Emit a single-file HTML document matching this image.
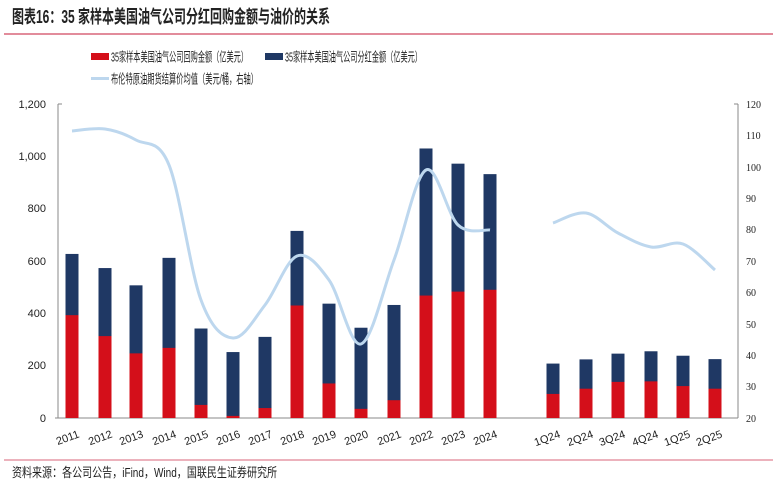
<!DOCTYPE html>
<html><head><meta charset="utf-8"><style>
body{margin:0;background:#fff;}
svg{display:block;font-family:"Liberation Sans","Noto Sans CJK SC",sans-serif;}
</style></head><body>
<svg width="777" height="485" viewBox="0 0 777 485">
<text x="12" y="23" font-size="18" font-weight="bold" fill="#222" textLength="318" lengthAdjust="spacingAndGlyphs">图表16：35 家样本美国油气公司分红回购金额与油价的关系</text>
<line x1="4" y1="34" x2="773" y2="34" stroke="#d9667a" stroke-width="1.5"/>
<rect x="91" y="53" width="18" height="7" fill="#d40f1a"/>
<text x="111" y="61.5" font-size="13" fill="#222" textLength="137" lengthAdjust="spacingAndGlyphs">35家样本美国油气公司回购金额（亿美元）</text>
<rect x="265" y="53" width="18" height="7" fill="#1f3864"/>
<text x="285" y="61.5" font-size="13" fill="#222" textLength="137" lengthAdjust="spacingAndGlyphs">35家样本美国油气公司分红金额（亿美元）</text>
<rect x="91" y="77" width="18" height="3" fill="#bdd7ee"/>
<text x="111" y="83.5" font-size="13" fill="#222" textLength="147" lengthAdjust="spacingAndGlyphs">布伦特原油期货结算价均值（美元/桶，右轴）</text>
<g font-size="11" fill="#222">
<text x="46" y="108" text-anchor="end">1,200</text>
<text x="46" y="160" text-anchor="end">1,000</text>
<text x="46" y="212" text-anchor="end">800</text>
<text x="46" y="265" text-anchor="end">600</text>
<text x="46" y="317" text-anchor="end">400</text>
<text x="46" y="369" text-anchor="end">200</text>
<text x="46" y="422" text-anchor="end">0</text>
</g>
<g font-size="10" fill="#222" font-family="Liberation Serif,serif">
<text x="746" y="108">120</text><text x="746" y="139">110</text><text x="746" y="171">100</text><text x="746" y="202">90</text><text x="746" y="233">80</text><text x="746" y="265">70</text><text x="746" y="296">60</text><text x="746" y="328">50</text><text x="746" y="359">40</text><text x="746" y="390">30</text><text x="746" y="422">20</text>
</g>
<g stroke="#888" stroke-width="1">
<line x1="58" y1="104" x2="58" y2="418"/><line x1="55" y1="418" x2="738" y2="418"/><line x1="738" y1="104" x2="738" y2="418"/>
<line x1="58" y1="104" x2="62" y2="104"/><line x1="734" y1="104" x2="738" y2="104"/>
</g>
<g id="bars"></g>
<path id="oil" fill="none" stroke="#bdd7ee" stroke-width="3"/>
<g id="xl" font-size="11" fill="#222"></g>
<line x1="4" y1="460" x2="773" y2="460" stroke="#d9667a" stroke-width="1"/>
<text x="12" y="477" font-size="13" fill="#222" textLength="265" lengthAdjust="spacingAndGlyphs">资料来源：各公司公告，iFind，Wind，国联民生证券研究所</text>
</svg>
<script>
var d=[["2011",72,627,393],["2012",105,573,313],["2013",136,507,247],["2014",169,612,268],["2015",201,342,50],["2016",233,252,8],["2017",265,310,38],["2018",297,715,430],["2019",329,437,132],["2020",361,345,35],["2021",394,432,68],["2022",426,1030,468],["2023",458,972,483],["2024",490,932,490],["1Q24",553,208,92],["2Q24",586,224,112],["3Q24",618,246,138],["4Q24",651,255,140],["1Q25",683,238,122],["2Q25",715,225,112]];
var y=v=>418-v*314/1200,s="",l="";
d.forEach(r=>{s+=`<rect x="${r[1]-6.5}" y="${y(r[2])}" width="13" height="${418-y(r[2])}" fill="#1f3864"/><rect x="${r[1]-6.5}" y="${y(r[3])}" width="13" height="${418-y(r[3])}" fill="#d40f1a"/>`;
l+=`<text transform="translate(${r[1]+8},437) rotate(-20)" text-anchor="end">${r[0]}</text>`;});
document.getElementById("bars").innerHTML=s;document.getElementById("xl").innerHTML=l;
function cr(p){var o="M"+p[0];for(var i=0;i<p.length-1;i++){var a=p[i-1]||p[i],b=p[i],c=p[i+1],e=p[i+2]||c;o+=`C${b[0]+(c[0]-a[0])/6},${b[1]+(c[1]-a[1])/6} ${c[0]-(e[0]-b[0])/6},${c[1]-(e[1]-b[1])/6} ${c[0]},${c[1]}`;}return o;}
var p1=[[72,131],[105,129],[136,140],[169,165],[201,300],[233,338],[265,305],[297,256],[329,280],[361,344],[394,260],[426,170],[458,225],[490,230]];
var p2=[[553,223],[586,213],[618,233],[651,247],[683,244],[715,270]];
document.getElementById("oil").setAttribute("d",cr(p1)+cr(p2));
</script>
</body></html>
